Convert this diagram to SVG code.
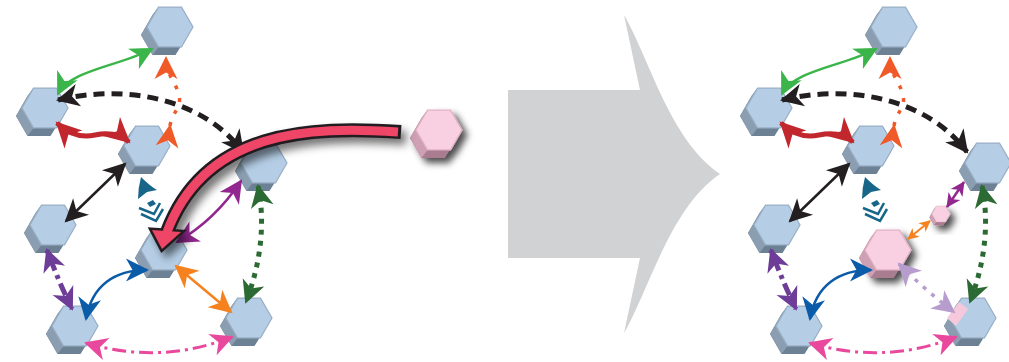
<svg xmlns="http://www.w3.org/2000/svg" xmlns:xlink="http://www.w3.org/1999/xlink" width="1009" height="362" viewBox="0 0 1009 362">
<style>
.c{fill:none;stroke-linecap:butt}
marker{overflow:visible}
</style>
<defs>
<path id="ah" d="M0,0 Q-11,-5.4 -23,-11.5 L-16.5,0 L-23,11.5 Q-11,5.4 0,0Z"/>
<marker id="aGreen" viewBox="-25 -15 30 30" markerWidth="30" markerHeight="30" markerUnits="userSpaceOnUse" refX="-2" refY="0" orient="auto-start-reverse"><use href="#ah" fill="#3bb54a"/></marker>
<marker id="aOrg" viewBox="-25 -15 30 30" markerWidth="30" markerHeight="30" markerUnits="userSpaceOnUse" refX="-2" refY="0" orient="auto"><use href="#ah" fill="#f05a28"/></marker>
<marker id="aBlk" viewBox="-25 -15 30 30" markerWidth="30" markerHeight="30" markerUnits="userSpaceOnUse" refX="-2" refY="0" orient="auto-start-reverse"><use href="#ah" fill="#231f20"/></marker>
<marker id="aRed" viewBox="-25 -15 30 30" markerWidth="30" markerHeight="30" markerUnits="userSpaceOnUse" refX="-2" refY="0" orient="auto-start-reverse"><use href="#ah" fill="#c1272d" transform="scale(1.1)"/></marker>
<marker id="aMag" viewBox="-25 -15 30 30" markerWidth="30" markerHeight="30" markerUnits="userSpaceOnUse" refX="-2" refY="0" orient="auto-start-reverse"><use href="#ah" fill="#92278f"/></marker>
<marker id="aMagS" viewBox="-25 -15 30 30" markerWidth="30" markerHeight="30" markerUnits="userSpaceOnUse" refX="-1" refY="0" orient="auto-start-reverse"><use href="#ah" fill="#92278f" transform="scale(0.62)"/></marker>
<marker id="aDG" viewBox="-25 -15 30 30" markerWidth="30" markerHeight="30" markerUnits="userSpaceOnUse" refX="-2" refY="0" orient="auto-start-reverse"><use href="#ah" fill="#2c6a33"/></marker>
<marker id="aPur" viewBox="-25 -15 30 30" markerWidth="30" markerHeight="30" markerUnits="userSpaceOnUse" refX="-2" refY="0" orient="auto-start-reverse"><use href="#ah" fill="#6d3d97"/></marker>
<marker id="aBlue" viewBox="-25 -15 30 30" markerWidth="30" markerHeight="30" markerUnits="userSpaceOnUse" refX="-2" refY="0" orient="auto-start-reverse"><use href="#ah" fill="#0a5ba8"/></marker>
<marker id="aOrange" viewBox="-25 -15 30 30" markerWidth="30" markerHeight="30" markerUnits="userSpaceOnUse" refX="-2" refY="0" orient="auto-start-reverse"><use href="#ah" fill="#f6821f"/></marker>
<marker id="aOrangeS" viewBox="-25 -15 30 30" markerWidth="30" markerHeight="30" markerUnits="userSpaceOnUse" refX="-1" refY="0" orient="auto-start-reverse"><use href="#ah" fill="#f6821f" transform="scale(0.5)"/></marker>
<marker id="aPink" viewBox="-25 -15 30 30" markerWidth="30" markerHeight="30" markerUnits="userSpaceOnUse" refX="-2" refY="0" orient="auto-start-reverse"><use href="#ah" fill="#e9499c"/></marker>
<marker id="aLil" viewBox="-25 -15 30 30" markerWidth="30" markerHeight="30" markerUnits="userSpaceOnUse" refX="-2" refY="0" orient="auto-start-reverse"><use href="#ah" fill="#b69dcd"/></marker>
<filter id="sh" x="-30%" y="-30%" width="170%" height="170%"><feDropShadow dx="5" dy="6" stdDeviation="4" flood-color="#000" flood-opacity="0.55"/></filter>
<filter id="psh" x="-40%" y="-40%" width="190%" height="190%"><feDropShadow dx="5" dy="5" stdDeviation="3.5" flood-color="#000" flood-opacity="0.7"/></filter>
<g id="hexBlue">
<polygon points="11.5,-19.9 -11.5,-19.9 -17.5,-11.9 -29,8 -17.5,27.9 5.5,27.9 23,0" fill="#6d8195"/>
<polygon points="-11.5,-19.9 -17.5,-11.9 -29,8 -17.5,27.9 -11.5,19.9 -23,0" fill="#8b9eb1"/>
<polygon points="23,0 11.5,19.9 -11.5,19.9 -23,0 -11.5,-19.9 11.5,-19.9" fill="#b5cee6" stroke="#9ab0c6" stroke-width="1.2"/>
</g>
<g id="hexPink">
<polygon points="11.5,-19.9 -11.5,-19.9 -17.5,-11.9 -29,8 -17.5,27.9 5.5,27.9 23,0" fill="#a97b8f"/>
<polygon points="-11.5,-19.9 -17.5,-11.9 -29,8 -17.5,27.9 -11.5,19.9 -23,0" fill="#cf9fb4"/>
<polygon points="23,0 11.5,19.9 -11.5,19.9 -23,0 -11.5,-19.9 11.5,-19.9" fill="#f8d0e1" stroke="#e2b2c6" stroke-width="1.2"/>
</g>
<g id="tealMark">
<path d="M141,177 Q150,186 157,190 L147,192 L138,199 Q138,188 141,177Z" fill="#17668a"/>
<path d="M147,203 L153,200 L156,204 L150,207Z" fill="#17668a"/>
<path d="M139,208 L154,214 L160,203 M141,214 L156,221 L163,209" stroke="#17668a" stroke-width="2.5" fill="none"/>
</g>
</defs>

<!-- transition arrow -->
<path id="transition" d="M508,90 H640 L624,15 C650,60 670,140 720,174 C670,208 650,288 624,333 L640,258 H508 Z" fill="#d1d2d4"/>

<!-- left graph nodes -->
<g id="n1"><use href="#hexBlue" x="170" y="27"/></g>
<g id="n2"><use href="#hexBlue" x="45" y="108"/></g>
<g id="n3"><use href="#hexBlue" x="147" y="146"/></g>
<g id="n4"><use href="#hexBlue" x="264" y="163"/></g>
<g id="n5"><use href="#hexBlue" x="53" y="225"/></g>
<g id="n6"><use href="#hexBlue" x="164" y="250"/></g>
<g id="n7"><use href="#hexBlue" x="75" y="326"/></g>
<g id="n8"><use href="#hexBlue" x="249" y="318"/></g>
<g id="p-src" filter="url(#psh)"><use href="#hexPink" x="439" y="130"/></g>

<!-- right graph nodes -->
<g id="r-n1"><use href="#hexBlue" x="894" y="27"/></g>
<g id="r-n2"><use href="#hexBlue" x="769" y="108"/></g>
<g id="r-n3"><use href="#hexBlue" x="871" y="146"/></g>
<g id="r-n4"><use href="#hexBlue" x="988" y="163"/></g>
<g id="r-n5"><use href="#hexBlue" x="777" y="225"/></g>
<g id="r-n7"><use href="#hexBlue" x="799" y="326"/></g>
<g id="r-n8"><use href="#hexBlue" x="973" y="318"/><polygon points="947,318 959,302 968,309 956,326" fill="#f5c8dc"/></g>
<g id="r-p-big" filter="url(#psh)"><use href="#hexPink" x="888" y="250"/></g>
<g id="r-p-small" filter="url(#psh)"><use href="#hexPink" transform="translate(941,214) scale(0.4)"/></g>

<!-- connectors -->
<g id="connectors">
<g id="connectors-left">
<path class="c" d="M58,94 C70,70 120,66 152,49" stroke="#3bb54a" stroke-width="2.5" marker-start="url(#aGreen)" marker-end="url(#aGreen)"/>
<path class="c" d="M170,126 C172,112 182,108 179,95 C176,82 166,75 166,58" stroke="#f05a28" stroke-width="3.5" stroke-dasharray="4 9" marker-start="url(#aOrg)" marker-end="url(#aOrg)"/>
<path class="c" d="M58,100 C120,85 200,95 243,152" stroke="#231f20" stroke-width="5" stroke-dasharray="11 7" marker-start="url(#aBlk)" marker-end="url(#aBlk)"/>
<path class="c" d="M57,123 C68,134 80,138 95,135 C110,132 120,134 129,142" stroke="#c1272d" stroke-width="5" marker-start="url(#aRed)" marker-end="url(#aRed)"/>
<path class="c" d="M66,221 L125,164" stroke="#231f20" stroke-width="2.5" marker-start="url(#aBlk)" marker-end="url(#aBlk)"/>
<use href="#tealMark"/>
<path class="c" d="M177,242 Q215,220 241,181" stroke="#92278f" stroke-width="2.5" marker-start="url(#aMag)" marker-end="url(#aMag)"/>
<path class="c" d="M258,186 C265,220 262,260 246,302" stroke="#2c6a33" stroke-width="5" stroke-dasharray="5 6" marker-start="url(#aDG)" marker-end="url(#aDG)"/>
<path class="c" d="M47,250 Q58,280 72,309" stroke="#6d3d97" stroke-width="5" stroke-dasharray="4 5 13 5" marker-start="url(#aPur)" marker-end="url(#aPur)"/>
<path class="c" d="M86,319 C92,285 115,270 147,270" stroke="#0a5ba8" stroke-width="2.5" marker-start="url(#aBlue)" marker-end="url(#aBlue)"/>
<path class="c" d="M176,266 L231,312" stroke="#f6821f" stroke-width="2.5" marker-start="url(#aOrange)" marker-end="url(#aOrange)"/>
<path class="c" d="M86,343 Q160,365 232,337" stroke="#e9499c" stroke-width="3" stroke-dasharray="14 5 3 5" marker-start="url(#aPink)" marker-end="url(#aPink)"/>
</g>
<g id="connectors-right">
<g transform="translate(724,0)">
<path class="c" d="M58,94 C70,70 120,66 152,49" stroke="#3bb54a" stroke-width="2.5" marker-start="url(#aGreen)" marker-end="url(#aGreen)"/>
<path class="c" d="M170,126 C172,112 182,108 179,95 C176,82 166,75 166,58" stroke="#f05a28" stroke-width="3.5" stroke-dasharray="4 9" marker-start="url(#aOrg)" marker-end="url(#aOrg)"/>
<path class="c" d="M58,100 C120,85 200,95 243,152" stroke="#231f20" stroke-width="5" stroke-dasharray="11 7" marker-start="url(#aBlk)" marker-end="url(#aBlk)"/>
<path class="c" d="M57,123 C68,134 80,138 95,135 C110,132 120,134 129,142" stroke="#c1272d" stroke-width="5" marker-start="url(#aRed)" marker-end="url(#aRed)"/>
<path class="c" d="M66,221 L125,164" stroke="#231f20" stroke-width="2.5" marker-start="url(#aBlk)" marker-end="url(#aBlk)"/>
<use href="#tealMark"/>
<path class="c" d="M258,186 C265,220 262,260 246,302" stroke="#2c6a33" stroke-width="5" stroke-dasharray="5 6" marker-start="url(#aDG)" marker-end="url(#aDG)"/>
<path class="c" d="M47,250 Q58,280 72,309" stroke="#6d3d97" stroke-width="5" stroke-dasharray="4 5 13 5" marker-start="url(#aPur)" marker-end="url(#aPur)"/>
<path class="c" d="M86,319 C92,285 115,270 147,270" stroke="#0a5ba8" stroke-width="2.5" marker-start="url(#aBlue)" marker-end="url(#aBlue)"/>
<path class="c" d="M86,343 Q160,365 232,337" stroke="#e9499c" stroke-width="3" stroke-dasharray="14 5 3 5" marker-start="url(#aPink)" marker-end="url(#aPink)"/>
</g>
<path class="c" d="M947,207 L964,182" stroke="#92278f" stroke-width="2.5" marker-start="url(#aMagS)" marker-end="url(#aMagS)"/>
<path class="c" d="M908,239 L930,221" stroke="#f6821f" stroke-width="2" marker-start="url(#aOrangeS)" marker-end="url(#aOrangeS)"/>
<path class="c" d="M899,264 Q925,290 954,312" stroke="#b69dcd" stroke-width="3.5" stroke-dasharray="4 7" marker-start="url(#aLil)" marker-end="url(#aLil)"/>
</g>
<g id="big-arrow" filter="url(#sh)">
<path d="M401,132 C310,126 205,130 167,232" stroke="#231f20" stroke-width="14" fill="none"/>
<polygon points="162,249 152,230 181,232" fill="#231f20" stroke="#231f20" stroke-width="5" stroke-linejoin="miter"/>
<path d="M398,132 C310,126 205,130 167,232" stroke="#ef4566" stroke-width="9" fill="none"/>
<polygon points="162,249 152,230 181,232" fill="#ef4566"/>
</g>
</g>
</svg>
